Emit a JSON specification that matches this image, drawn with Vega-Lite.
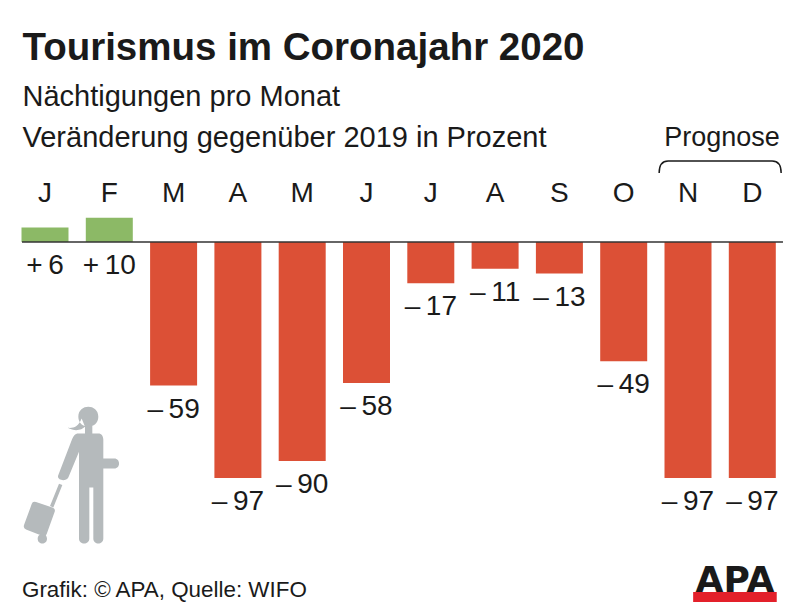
{
"$schema":"https://vega.github.io/schema/vega-lite/v6.json",
"width":800,"height":456,
"autosize":{"type":"none"},
"padding":{"left":0,"top":160,"right":0,"bottom":0},
"background":"white",
"config":{"view":{"stroke":null},"axis":{"disable":true},"text":{"font":"Liberation Sans","color":"#1a1a1a"}},
"title":{"text":"Tourismus im Coronajahr 2020","subtitle":["Nächtigungen pro Monat","Veränderung gegenüber 2019 in Prozent"],"anchor":"start","frame":"group","dx":22.5,"offset":-30,"font":"Liberation Sans","fontSize":38.5,"fontWeight":"bold","color":"#1a1a1a","subtitleFont":"Liberation Sans","subtitleFontSize":29,"subtitleColor":"#1a1a1a","subtitleLineHeight":41,"subtitlePadding":15},
"datasets":{"months":[
{"m":1,"month":"J","value":6,"label":"+\u20096","sign":"pos"},
{"m":2,"month":"F","value":10,"label":"+\u200910","sign":"pos"},
{"m":3,"month":"M","value":-59,"label":"–\u200959","sign":"neg"},
{"m":4,"month":"A","value":-97,"label":"–\u200997","sign":"neg"},
{"m":5,"month":"M","value":-90,"label":"–\u200990","sign":"neg"},
{"m":6,"month":"J","value":-58,"label":"–\u200958","sign":"neg"},
{"m":7,"month":"J","value":-17,"label":"–\u200917","sign":"neg"},
{"m":8,"month":"A","value":-11,"label":"–\u200911","sign":"neg"},
{"m":9,"month":"S","value":-13,"label":"–\u200913","sign":"neg"},
{"m":10,"month":"O","value":-49,"label":"–\u200949","sign":"neg"},
{"m":11,"month":"N","value":-97,"label":"–\u200997","sign":"neg"},
{"m":12,"month":"D","value":-97,"label":"–\u200997","sign":"neg"}
]},
"layer":[
{"data":{"name":"months"},"mark":{"type":"bar","width":47},
 "encoding":{"x":{"field":"m","type":"quantitative","scale":{"domain":[0.3002,12.7418],"nice":false,"zero":false,"padding":0}},
 "y":{"field":"value","type":"quantitative","scale":{"domain":[-153.72,33.7],"nice":false,"zero":false,"padding":0}},"y2":{"datum":0},
 "color":{"field":"sign","type":"nominal","scale":{"domain":["pos","neg"],"range":["#8cb966","#dc5036"]},"legend":null}}},
{"data":{"values":[{"name":"baseline"}]},"mark":{"type":"rule","stroke":"#333333","strokeWidth":1.5},
 "encoding":{"x":{"datum":0.642,"type":"quantitative"},"x2":{"datum":12.477},"y":{"datum":0,"type":"quantitative"}}},
{"data":{"name":"months"},"mark":{"type":"text","fontSize":28,"baseline":"middle","align":"center"},
 "encoding":{"x":{"field":"m","type":"quantitative"},"y":{"datum":19.8,"type":"quantitative"},"text":{"field":"month"}}},
{"data":{"name":"months"},"transform":[{"filter":"datum.value<0"}],"mark":{"type":"text","fontSize":28,"baseline":"middle","align":"center","dy":24},
 "encoding":{"x":{"field":"m","type":"quantitative"},"y":{"field":"value","type":"quantitative"},"text":{"field":"label"}}},
{"data":{"name":"months"},"transform":[{"filter":"datum.value>0"}],"mark":{"type":"text","fontSize":28,"baseline":"middle","align":"center","dy":24.5},
 "encoding":{"x":{"field":"m","type":"quantitative"},"y":{"datum":0,"type":"quantitative"},"text":{"field":"label"}}},
{"data":{"values":[{"t":"Prognose"}]},"mark":{"type":"text","fontSize":27,"baseline":"middle","align":"center"},
 "encoding":{"x":{"datum":11.53,"type":"quantitative"},"y":{"datum":42.7,"type":"quantitative"},"text":{"field":"t"}}},
{"data":{"values":[{"t":"bracket"}]},"mark":{"type":"point","shape":"M-61,13 C-61,5 -58,1 -52,1 L52,1 C58,1 61,5 61,13","filled":false,"stroke":"#1a1a1a","strokeWidth":1.5,"size":4,"opacity":1},
 "encoding":{"x":{"datum":11.5,"type":"quantitative"},"y":{"datum":33.7,"type":"quantitative"}}},
{"data":{"values":[{"t":"traveller"}]},"mark":{"type":"point","shape":"M35,-130 L95,-130 C105,-130 110,-122 110,-112 L110,-55 L143,-55 C162,-55 162,-25 143,-25 L110,-25 L110,185 C110,205 80,205 80,185 L80,32 L68,32 L68,185 C68,205 37,205 37,185 L37,-75 L5,2 C-3,17 -32,10 -25,-5 L15,-110 C20,-122 25,-130 35,-130 Z M55,-155 L77,-155 L77,-125 L55,-125 Z M35,-180 C35,-220 95,-220 95,-180 C95,-140 35,-140 35,-180 Z M45,-175 C35,-150 20,-145 3,-147 C25,-135 45,-140 55,-150 Z M-23,21 L-13,25 L-40,92 L-50,88 Z M-92,76 L-43,92 Q-33,96 -36,105 L-60,172 Q-63,181 -72,178 L-122,158 Q-131,154 -128,145 L-105,82 Q-102,72 -92,76 Z M-87,186 C-87,167 -59,167 -59,186 C-59,205 -87,205 -87,186 Z","filled":true,"fill":"#b5babc","strokeWidth":0,"size":0.444,"opacity":1},
 "encoding":{"x":{"datum":1.337,"type":"quantitative"},"y":{"datum":-96.5,"type":"quantitative"}}},
{"data":{"values":[{"t":"Grafik: © APA, Quelle: WIFO"}]},"mark":{"type":"text","fontSize":22.4,"baseline":"middle","align":"left"},
 "encoding":{"x":{"datum":0.642,"type":"quantitative"},"y":{"datum":-143,"type":"quantitative"},"text":{"field":"t"}}},
{"data":{"values":[{"t":"APA"}]},"mark":{"type":"text","font":"DejaVu Sans","fontWeight":"bold","fontSize":36,"baseline":"alphabetic","align":"center","color":"#1a1a1a"},
 "encoding":{"x":{"datum":11.73,"type":"quantitative"},"y":{"datum":-143.9,"type":"quantitative"},"text":{"field":"t"}}},
{"data":{"values":[{"t":"logo"}]},"mark":{"type":"rect","fill":"#e3202a"},
 "encoding":{"x":{"datum":11.08,"type":"quantitative"},"x2":{"datum":12.38},"y":{"datum":-143.9,"type":"quantitative"},"y2":{"datum":-148}}}
]
}
